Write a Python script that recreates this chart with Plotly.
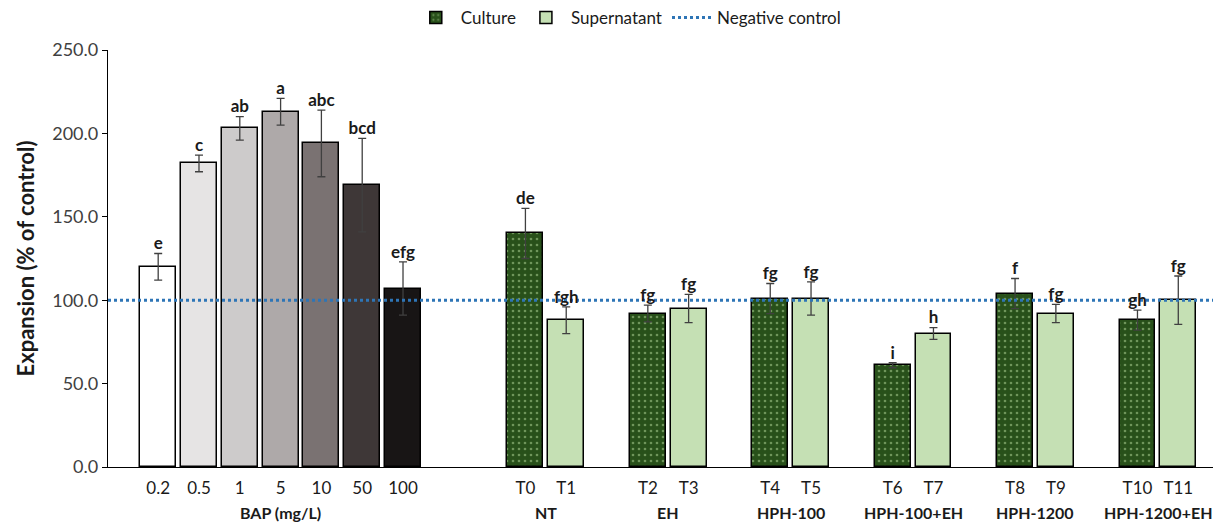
import plotly.graph_objects as go

# ---- data ----
bap_labels = ["0.2", "0.5", "1", "5", "10", "50", "100"]
bap_values = [120, 182, 203, 213, 194, 169, 107]
bap_errors = [8, 5, 7, 8, 20, 28, 16]
bap_letters = ["e", "c", "ab", "a", "abc", "bcd", "efg"]
bap_colors = ["#ffffff", "#e6e4e4", "#cdcbcb", "#aea9a9", "#7a7272", "#3e3737", "#181515"]

culture_labels = ["T0", "T2", "T4", "T6", "T8", "T10"]
culture_values = [140, 92, 101, 61, 104, 88]
culture_errors = [15, 5, 9, 1.5, 9, 6]
culture_letters = ["de", "fg", "fg", "i", "f", "gh"]

super_labels = ["T1", "T3", "T5", "T7", "T9", "T11"]
super_values = [88, 95, 101, 80, 92, 100]
super_errors = [8, 8.5, 10, 3.5, 5.5, 14.5]
super_letters = ["fgh", "fg", "fg", "h", "fg", "fg"]

group_labels = ["BAP (mg/L)", "NT", "EH", "HPH-100", "HPH-100+EH", "HPH-1200", "HPH-1200+EH"]
negative_control = 100

# ---- slot positions (layout) ----
bap_x = list(range(7))
culture_x = [9, 12, 15, 18, 21, 24]
super_x = [10, 13, 16, 19, 22, 25]
group_x = [3, 9.5, 12.5, 15.5, 18.5, 21.5, 24.5]
x_range = [-1.23, 25.9]

FONT = "Lato"
err_style = dict(type="data", thickness=1.3, width=4, color="#404040")

fig = go.Figure()

fig.add_trace(go.Bar(
    x=bap_x, y=bap_values, width=0.88,
    marker=dict(color=bap_colors, line=dict(color="#000000", width=1.5)),
    error_y=dict(array=bap_errors, **err_style),
    showlegend=False, hoverinfo="y",
))

fig.add_trace(go.Bar(
    x=culture_x, y=culture_values, width=0.88, name="Culture",
    marker=dict(color="#28501a", line=dict(color="#000000", width=1.5),
                pattern=dict(shape=".", fgcolor="#b5d99c", size=6, solidity=0.15)),
    error_y=dict(array=culture_errors, **err_style),
))

fig.add_trace(go.Bar(
    x=super_x, y=super_values, width=0.88, name="Supernatant",
    marker=dict(color="#c5e0b4", line=dict(color="#000000", width=1.5)),
    error_y=dict(array=super_errors, **err_style),
))

fig.add_trace(go.Scatter(
    x=x_range, y=[negative_control, negative_control], mode="lines",
    name="Negative control",
    line=dict(color="#2e75b6", width=3, dash="dot"),
))

# significance letters
all_x = bap_x + culture_x + super_x
all_top = [v + e for v, e in zip(bap_values + culture_values + super_values,
                                 bap_errors + culture_errors + super_errors)]
all_letters = bap_letters + culture_letters + super_letters
fig.add_trace(go.Scatter(
    x=all_x, y=all_top, mode="text", text=all_letters,
    textposition="top center",
    textfont=dict(family=FONT, size=17, color="#1a1a1a", weight="bold"),
    showlegend=False, hoverinfo="skip",
))

for gx, gl in zip(group_x, group_labels):
    fig.add_annotation(x=gx, xref="x", y=-0.134, yref="paper", text="<b>" + gl + "</b>",
                       showarrow=False, yanchor="bottom", borderpad=0,
                       font=dict(family=FONT, size=16, color="#1a1a1a"))

# page body has an 8px margin, so the figure is sized/offset to compensate
fig.update_layout(
    width=1213, height=514,
    margin=dict(l=100, r=6, t=42, b=55, autoexpand=False),
    paper_bgcolor="white", plot_bgcolor="white",
    font=dict(family=FONT, size=18, color="#404040"),
    bargap=0,
    legend=dict(orientation="h", x=0.47, xanchor="center", y=1.077, yanchor="middle",
                itemwidth=40,
                font=dict(family=FONT, size=17, color="#1a1a1a"), traceorder="normal"),
    xaxis=dict(range=x_range, tickvals=bap_x + culture_x + super_x,
               ticktext=bap_labels + culture_labels + super_labels,
               showline=True, linecolor="#000000", linewidth=1.3,
               ticks="outside", ticklen=5, tickcolor="rgba(0,0,0,0)",
               tickfont=dict(family=FONT, size=17, color="#1a1a1a"),
               showgrid=False, zeroline=False, automargin=False),
    yaxis=dict(range=[0, 250], tickvals=[0, 50, 100, 150, 200, 250], tickformat=".1f",
               showline=True, linecolor="#000000", linewidth=1.3,
               ticks="outside", ticklen=5, tickcolor="#000000",
               tickfont=dict(family=FONT, size=18, color="#404040"),
               showgrid=False, zeroline=False, automargin=False,
               title=dict(text="<b>Expansion (% of control)</b>", standoff=11,
                          font=dict(family=FONT, size=22, color="#1a1a1a"))),
)

fig.write_html("out.html")
